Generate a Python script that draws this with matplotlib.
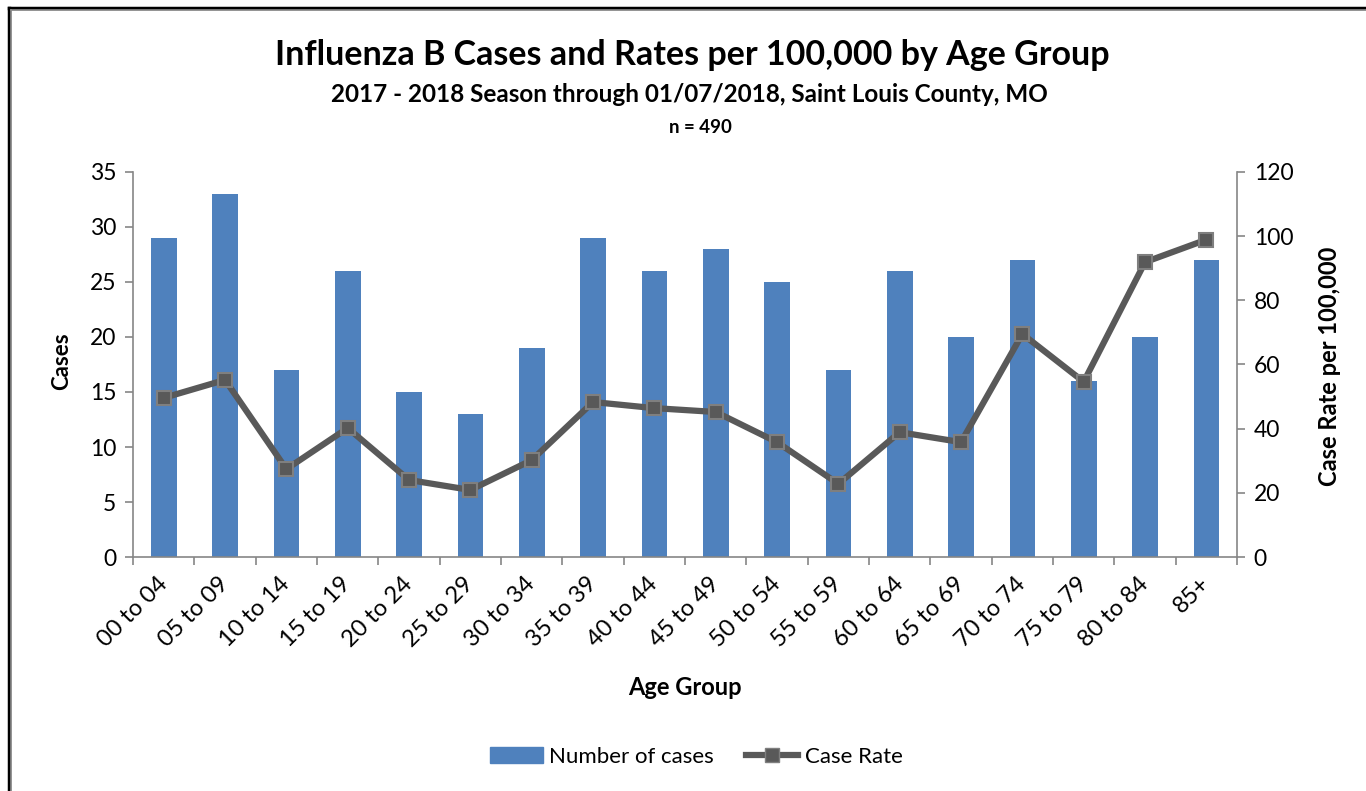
import matplotlib.pyplot as plt
import matplotlib.transforms as mtransforms
from matplotlib.lines import Line2D
import numpy as np

plt.rcParams['font.family'] = ['Lato', 'DejaVu Sans']

# data
age_groups = ['00 to 04', '05 to 09', '10 to 14', '15 to 19', '20 to 24', '25 to 29',
              '30 to 34', '35 to 39', '40 to 44', '45 to 49', '50 to 54', '55 to 59',
              '60 to 64', '65 to 69', '70 to 74', '75 to 79', '80 to 84', '85+']
cases = [29, 33, 17, 26, 15, 13, 19, 29, 26, 28, 25, 17, 26, 20, 27, 16, 20, 27]
case_rate = [49.6, 55.2, 27.4, 40.2, 24.0, 20.9, 30.2, 48.3, 46.4, 45.2,
             35.8, 22.8, 38.9, 35.8, 69.5, 54.6, 91.9, 98.9]

bar_color = '#4f81bd'
line_color = '#595959'
axis_color = '#868686'

fig = plt.figure(figsize=(13.66, 7.91), dpi=100)
ax = fig.add_axes([0.0974, 0.2958, 0.8082, 0.4868])
ax2 = ax.twinx()

x = np.arange(len(age_groups))
ax.bar(x, cases, width=0.42, color=bar_color, zorder=2)
ax2.plot(x, case_rate, color=line_color, lw=4.5, marker='s', markersize=9.5,
         markerfacecolor=line_color, markeredgecolor='#7f7f7f', markeredgewidth=1.5, zorder=3)

ax.set_xlim(-0.5, len(age_groups) - 0.5)
ax.set_ylim(0, 35)
ax.set_yticks(range(0, 36, 5))
ax2.set_ylim(0, 120)
ax2.set_yticks(range(0, 121, 20))

ax.set_xticks(x)
ax.set_xticklabels(age_groups, rotation=45, ha='right', va='center', rotation_mode='anchor', fontsize=17)
shift = mtransforms.ScaledTranslation(0.15, 0, fig.dpi_scale_trans)
for lbl in ax.get_xticklabels():
    lbl.set_transform(lbl.get_transform() + shift)
ax.set_xticks(np.arange(-0.5, len(age_groups), 1), minor=True)
ax.tick_params(axis='x', which='major', length=0, pad=17)
ax.tick_params(axis='x', which='minor', length=6, color=axis_color, width=1.2)
ax.tick_params(axis='y', length=6, color=axis_color, width=1.2, labelsize=16.5, pad=6)
ax2.tick_params(axis='y', length=6, color=axis_color, width=1.2, labelsize=16.5, pad=6)

for a in (ax, ax2):
    a.spines['top'].set_visible(False)
    for s in ('left', 'right', 'bottom'):
        a.spines[s].set_color(axis_color)
        a.spines[s].set_linewidth(1.2)
ax.spines['right'].set_visible(False)
ax2.spines['left'].set_visible(False)
ax2.spines['bottom'].set_visible(False)

ax.set_ylabel('Cases', fontsize=16, fontweight='bold', va='center')
ax.yaxis.set_label_coords(-0.0643, 0.509)
ax2.set_ylabel('Case Rate per 100,000', fontsize=17, fontweight='bold', va='center')
ax2.yaxis.set_label_coords(1.084, 0.494)
ax.set_xlabel('Age Group', fontsize=17, fontweight='bold', va='center')
ax.xaxis.set_label_coords(0.5, -0.338)

fig.text(0.507, 0.930, 'Influenza B Cases and Rates per 100,000 by Age Group',
         ha='center', va='center', fontsize=24.5, fontweight='bold')
fig.text(0.505, 0.880, '2017 - 2018 Season through 01/07/2018, Saint Louis County, MO',
         ha='center', va='center', fontsize=17.5, fontweight='bold')
fig.text(0.513, 0.839, 'n = 490', ha='center', va='center', fontsize=13.5, fontweight='bold')

handles = [plt.Rectangle((0, 0), 1, 1, color=bar_color),
           Line2D([], [], color=line_color, lw=4.5, marker='s', markersize=9.5,
                  markerfacecolor=line_color, markeredgecolor='#7f7f7f')]
fig.legend(handles, ['Number of cases', 'Case Rate'], loc='center', bbox_to_anchor=(0.510, 0.043),
           ncol=2, frameon=False, fontsize=16, handlelength=2.35, handletextpad=0.3,
           columnspacing=1.45)

# chart frame (only top and left edges are visible in the reference)
fig.add_artist(Line2D([0.0066, 0.0066], [0.0, 0.9896], color='black', lw=2.5, transform=fig.transFigure))
fig.add_artist(Line2D([0.0066, 1.0], [0.9896, 0.9896], color='black', lw=2.5, transform=fig.transFigure))
fig.add_artist(Line2D([0.0084, 0.0084], [0.0, 0.9868], color='#8c8c8c', lw=1.2, transform=fig.transFigure))
fig.add_artist(Line2D([0.0084, 1.0], [0.9868, 0.9868], color='#8c8c8c', lw=1.2, transform=fig.transFigure))

fig.savefig('out.png', dpi=100)
